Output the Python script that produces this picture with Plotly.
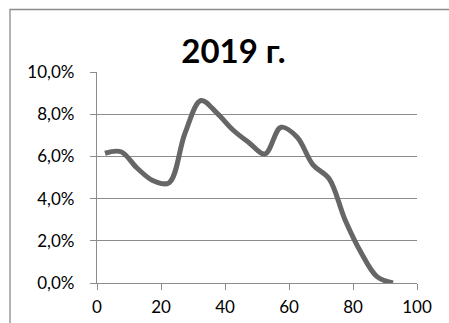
import plotly.graph_objects as go

# Age-group midpoints (years) and share of population (%)
ages = [2.5, 7.5, 12.5, 17.5, 22.5, 27.5, 32.5, 37.5, 42.5, 47.5,
        52.5, 57.5, 62.5, 67.5, 72.5, 77.5, 82.5, 87.5, 92.5]
share = [6.15, 6.22, 5.45, 4.85, 4.75, 7.10, 8.65, 8.05, 7.25, 6.65,
         6.12, 7.38, 6.92, 5.60, 4.95, 3.00, 1.45, 0.30, 0.00]

x_ticks = [0, 20, 40, 60, 80, 100]
y_ticks = [0, 2, 4, 6, 8, 10]
y_tick_text = ["0,0%", "2,0%", "4,0%", "6,0%", "8,0%", "10,0%"]

grid_col = "#8c8c8c"
font_family = "Lato, 'Open Sans', sans-serif"

fig = go.Figure(
    go.Scatter(
        x=ages,
        y=share,
        mode="lines",
        line=dict(color="#666666", width=5, shape="spline", smoothing=1.0),
        hoverinfo="skip",
    )
)

fig.update_layout(
    width=449,
    height=323,
    margin=dict(l=97, r=32, t=72, b=40, autoexpand=False),
    paper_bgcolor="white",
    plot_bgcolor="white",
    showlegend=False,
    font=dict(family=font_family, size=17, color="#000000"),
    title=dict(
        text="<b>2019 г.</b>",
        font=dict(family=font_family, size=33, color="#000000"),
        xref="container",
        x=233.5 / 449,
        xanchor="center",
        yref="container",
        y=1 - 51 / 323,
        yanchor="middle",
    ),
    xaxis=dict(
        range=[0, 100],
        tickvals=x_ticks,
        ticks="outside",
        ticklen=6,
        tickcolor=grid_col,
        tickwidth=1.3,
        showline=True,
        linecolor=grid_col,
        linewidth=1.3,
        showgrid=False,
        zeroline=False,
        automargin=False,
        ticklabelstandoff=2,
    ),
    yaxis=dict(
        range=[0, 10],
        tickvals=y_ticks,
        ticktext=y_tick_text,
        ticks="outside",
        ticklen=6,
        tickcolor=grid_col,
        tickwidth=1.3,
        showline=True,
        linecolor=grid_col,
        linewidth=1.3,
        showgrid=True,
        gridcolor=grid_col,
        gridwidth=1.3,
        zeroline=False,
        automargin=False,
        ticklabelstandoff=12,
    ),
    shapes=[
        dict(
            type="rect",
            xref="paper",
            yref="paper",
            x0=(10 - 97) / 320,
            x1=1.5,
            y0=-1.0,
            y1=1 + (72 - 9.5) / 211,
            line=dict(color=grid_col, width=1.3),
            fillcolor="rgba(0,0,0,0)",
            layer="below",
        )
    ],
)

fig.write_html("out.html")
